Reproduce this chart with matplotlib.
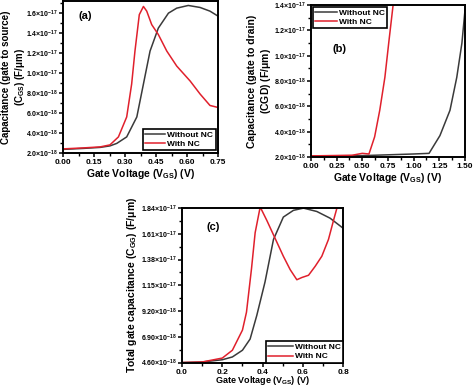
import math
import matplotlib
matplotlib.use("Agg")
import matplotlib.pyplot as plt
from matplotlib.ticker import FuncFormatter, MultipleLocator, AutoMinorLocator

plt.rcParams['font.family'] = ['Liberation Sans', 'DejaVu Sans']
plt.rcParams['font.weight'] = 'bold'
plt.rcParams['mathtext.fontset'] = 'custom'
plt.rcParams['mathtext.rm'] = 'Liberation Sans:bold'
plt.rcParams['mathtext.bf'] = 'Liberation Sans:bold'
plt.rcParams['mathtext.it'] = 'Liberation Sans:bold'
plt.rcParams['mathtext.default'] = 'bf'

# (a) gate to source capacitance
va_without = [0.0, 0.10, 0.18, 0.227, 0.26, 0.308, 0.357, 0.389, 0.421, 0.461, 0.51, 0.55,
              0.606, 0.663, 0.711, 0.75]
ca_without = [2.35e-18, 2.45e-18, 2.55e-18, 2.7e-18, 2.95e-18, 3.6e-18, 5.6e-18, 8.9e-18, 12.2e-18,
              14.5e-18, 16.0e-18, 16.5e-18, 16.77e-18, 16.57e-18, 16.2e-18, 15.7e-18]
va_with = [0.0, 0.10, 0.18, 0.227, 0.268, 0.308, 0.332, 0.348, 0.369, 0.389, 0.405, 0.429, 0.461,
           0.502, 0.55, 0.615, 0.663, 0.711, 0.75]
ca_with = [2.4e-18, 2.5e-18, 2.6e-18, 2.8e-18, 3.6e-18, 5.6e-18, 8.9e-18, 12.2e-18, 15.85e-18,
           16.67e-18, 16.2e-18, 14.85e-18, 13.86e-18, 12.2e-18, 10.7e-18, 9.2e-18, 7.9e-18,
           6.75e-18, 6.55e-18]

# (b) gate to drain capacitance
vb_without = [0.0, 0.5, 1.0, 1.15, 1.256, 1.354, 1.42, 1.47, 1.5]
cb_without = [2.1e-18, 2.12e-18, 2.25e-18, 2.3e-18, 3.7e-18, 5.7e-18, 8.3e-18, 11.0e-18, 13.6e-18]
vb_with = [0.0, 0.40, 0.50, 0.565, 0.62, 0.67, 0.72, 0.76, 0.80]
cb_with = [2.1e-18, 2.15e-18, 2.3e-18, 2.25e-18, 3.6e-18, 5.7e-18, 8.3e-18, 11.2e-18, 14.0e-18]

# (c) total gate capacitance
vc_without = [0.0, 0.1, 0.2, 0.25, 0.3, 0.338, 0.371, 0.412, 0.454, 0.503, 0.553, 0.603, 0.669,
              0.735, 0.8]
cc_without = [4.6e-18, 4.65e-18, 4.85e-18, 5.1e-18, 5.7e-18, 6.7e-18, 8.8e-18, 11.8e-18, 15.6e-18,
              17.6e-18, 18.2e-18, 18.4e-18, 18.1e-18, 17.5e-18, 16.6e-18]
vc_with = [0.0, 0.1, 0.2, 0.25, 0.3, 0.32, 0.345, 0.363, 0.388, 0.421, 0.462, 0.503, 0.537, 0.57,
           0.595, 0.628, 0.661, 0.694, 0.727, 0.752, 0.772, 0.79]
cc_with = [4.6e-18, 4.65e-18, 5.0e-18, 5.7e-18, 7.5e-18, 9.1e-18, 13.0e-18, 16.2e-18, 18.5e-18,
           17.3e-18, 15.7e-18, 14.1e-18, 12.9e-18, 12.0e-18, 12.2e-18, 12.4e-18, 13.2e-18, 14.1e-18,
           15.6e-18, 17.3e-18, 18.6e-18, 19.6e-18]

BLACK = '#3a3a3a'
RED = '#e0202c'


def sci(dec):
    def f(v, pos):
        if v <= 0:
            return ''
        e = int(math.floor(math.log10(v) + 1e-9))
        m = v / 10 ** e
        return r'$%.*f{\times}10^{%d}$' % (dec, m, e)
    return FuncFormatter(f)


def style(ax, xmaj, ymaj, dec, xdec):
    for s in ax.spines.values():
        s.set_linewidth(1.4)
    ax.xaxis.set_major_locator(MultipleLocator(xmaj))
    ax.yaxis.set_major_locator(MultipleLocator(ymaj))
    ax.xaxis.set_minor_locator(AutoMinorLocator(2))
    ax.yaxis.set_minor_locator(AutoMinorLocator(2))
    ax.yaxis.set_major_formatter(sci(dec))
    ax.xaxis.set_major_formatter(FuncFormatter(lambda v, p: '%.*f' % (xdec, v)))
    ax.tick_params(which='major', direction='out', length=3, width=1.1, labelsize=6, pad=1.5)
    ax.tick_params(axis='y', which='major', labelsize=5, pad=0.8)
    ax.tick_params(which='minor', direction='out', length=2, width=1.0)


def legend(ax, loc, hl, bap):
    leg = ax.legend(loc=loc, prop={'size': 6, 'weight': 'bold'}, frameon=True, fancybox=False,
                    edgecolor='black', framealpha=1, handlelength=hl, borderpad=0.25,
                    labelspacing=0.15, borderaxespad=bap, handletextpad=0.3)
    leg.get_frame().set_linewidth(1.2)


fig = plt.figure(figsize=(4.74, 3.89), dpi=100)

ax1 = fig.add_axes([0.133, 0.607, 0.327, 0.39])
ax1.plot(va_without, ca_without, color=BLACK, lw=1.1, label='Without NC')
ax1.plot(va_with, ca_with, color=RED, lw=1.1, label='With NC')
ax1.set_xlim(0, 0.75)
ax1.set_ylim(2.0e-18, 1.72e-17)
style(ax1, 0.15, 2e-18, 1, 2)
ax1.set_xlabel(r'Gate Voltage (V$_{GS}$) (V)', fontsize=7.5, fontweight='bold', labelpad=0.5)
ax1.set_ylabel('Capacitance (gate to source)\n' + r'(C$_{GS}$) (F/$\mu$m)', fontsize=7,
               fontweight='bold', linespacing=1.2)
ax1.yaxis.set_label_coords(-0.235, 0.5)
ax1.text(0.1, 0.88, '(a)', transform=ax1.transAxes, fontsize=8, fontweight='bold')
legend(ax1, 'lower right', 2.4, 0.3)

ax2 = fig.add_axes([0.656, 0.596, 0.325, 0.391])
ax2.plot(vb_without, cb_without, color=BLACK, lw=1.1, label='Without NC')
ax2.plot(vb_with, cb_with, color=RED, lw=1.1, label='With NC')
ax2.set_xlim(0, 1.5)
ax2.set_ylim(2.0e-18, 1.4e-17)
style(ax2, 0.25, 2e-18, 1, 2)
ax2.set_xlabel(r'Gate Voltage (V$_{GS}$) (V)', fontsize=7.5, fontweight='bold', labelpad=0.5)
ax2.set_ylabel('Capacitance (gate to drain)\n' + r'(CGD) (F/$\mu$m)', fontsize=7.5,
               fontweight='bold', linespacing=1.2)
ax2.yaxis.set_label_coords(-0.245, 0.5)
ax2.text(0.14, 0.69, '(b)', transform=ax2.transAxes, fontsize=8, fontweight='bold')
legend(ax2, 'upper left', 2.6, 0.25)

ax3 = fig.add_axes([0.384, 0.068, 0.340, 0.397])
ax3.plot(vc_without, cc_without, color=BLACK, lw=1.1, label='Without NC')
ax3.plot(vc_with, cc_with, color=RED, lw=1.1, label='With NC')
ax3.set_xlim(0, 0.8)
ax3.set_ylim(4.6e-18, 1.84e-17)
style(ax3, 0.2, 2.3e-18, 2, 1)
ax3.set_xlabel(r'Gate Voltage (V$_{GS}$) (V)', fontsize=6.5, fontweight='bold', labelpad=-1)
ax3.set_ylabel(r'Total gate capacitance (C$_{GG}$) (F/$\mu$m)', fontsize=7.5, fontweight='bold')
ax3.yaxis.set_label_coords(-0.27, 0.5)
ax3.text(0.15, 0.86, '(c)', transform=ax3.transAxes, fontsize=8, fontweight='bold')
legend(ax3, 'lower right', 2.9, 0.0)

fig.savefig('out.png', dpi=100)
